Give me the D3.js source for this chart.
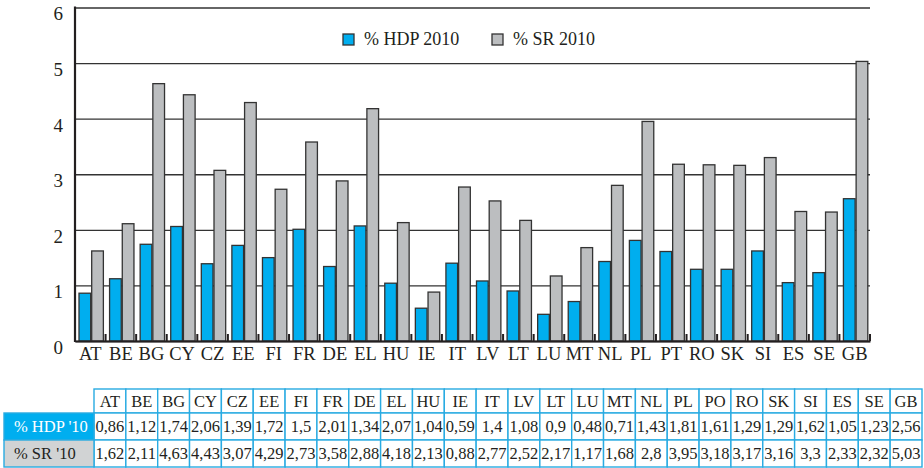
<!doctype html>
<html lang="cs">
  <head>
    <meta charset="utf-8">
    <title>% HDP a % SR 2010</title>
    <style>
      body { margin: 0; background: #fff; }
      svg text { font-family: "Liberation Serif", "Times New Roman", serif; fill: #231f20; }
    </style>
  </head>
  <body>
    <div id="chart"></div>

    <script src="https://cdn.jsdelivr.net/npm/d3@7"></script>
    <script>
      // data
      const countries = ["AT","BE","BG","CY","CZ","EE","FI","FR","DE","EL","HU","IE","IT","LV","LT","LU","MT","NL","PL","PT","RO","SK","SI","ES","SE","GB"];
      const tableHeads = ["AT","BE","BG","CY","CZ","EE","FI","FR","DE","EL","HU","IE","IT","LV","LT","LU","MT","NL","PL","PO","RO","SK","SI","ES","SE","GB"];
      const hdp2010 = [0.86,1.12,1.74,2.06,1.39,1.72,1.5,2.01,1.34,2.07,1.04,0.59,1.4,1.08,0.9,0.48,0.71,1.43,1.81,1.61,1.29,1.29,1.62,1.05,1.23,2.56];
      const sr2010 = [1.62,2.11,4.63,4.43,3.07,4.29,2.73,3.58,2.88,4.18,2.13,0.88,2.77,2.52,2.17,1.17,1.68,2.8,3.95,3.18,3.17,3.16,3.3,2.33,2.32,5.03];
      const yTicks = [0,1,2,3,4,5,6];
      const seriesNames = ["% HDP 2010","% SR 2010"];
      const rowNames = ["% HDP '10","% SR '10"];

      const blue = "#00aeef", grey = "#bcbec0", ink = "#333";
      const serif = "'Liberation Serif', 'Times New Roman', serif";
      const W = 924, H = 468;

      const svg = d3.select("#chart").append("svg")
        .attr("width", W).attr("height", H);

      const plotLeft = 75, plotRight = 870, plotTop = 7.5, plotBottom = 341;

      const x = d3.scaleBand().domain(countries).range([plotLeft, plotRight]);
      const y = d3.scaleLinear().domain([0, 6]).range([plotBottom, plotTop]);
      const inner = d3.scaleBand().domain([0, 1]).range([4, x.bandwidth() - 2.2]).paddingInner(0.08);

      //gridlines + y labels
      const yAxis = svg.append("g")
        .attr("transform", "translate(" + plotLeft + ",0)")
        .call(d3.axisLeft(y).tickValues(yTicks).tickFormat(d3.format("d"))
          .tickSize(-(plotRight - plotLeft)).tickPadding(12));
      yAxis.select(".domain").remove();
      yAxis.selectAll(".tick line").attr("stroke", ink).attr("stroke-width", 1.4);
      yAxis.selectAll(".tick text")
        .attr("dy", "0.65em")
        .style("font-family", serif).style("font-size", "19px").style("fill", "#231f20");

      // bars
      const series = [hdp2010, sr2010];
      const colours = [blue, grey];
      series.forEach((vals, s) => {
        svg.append("g").selectAll("rect")
          .data(vals)
          .enter().append("rect")
          .attr("x", (d, i) => x(countries[i]) + inner(s))
          .attr("y", d => y(d))
          .attr("width", inner.bandwidth())
          .attr("height", d => y(0) - y(d))
          .attr("fill", colours[s])
          .attr("stroke", ink)
          .attr("stroke-width", 1.3);
      });

      // y axis line
      svg.append("line")
        .attr("x1", plotLeft).attr("x2", plotLeft).attr("y1", plotTop - 1).attr("y2", plotBottom + 1)
        .attr("stroke", "#231f20").attr("stroke-width", 2.2);

      // x axis: baseline with small upward ticks between countries
      const xAxis = svg.append("g")
        .attr("transform", "translate(0," + plotBottom + ")")
        .call(d3.axisBottom(x).tickSize(0).tickPadding(6));
      xAxis.select(".domain").attr("stroke", "#231f20").attr("stroke-width", 2.2);
      xAxis.selectAll(".tick text")
        .style("font-family", serif).style("font-size", "18.5px").style("fill", "#231f20");
      xAxis.selectAll(".sep")
        .data(countries)
        .enter().append("line")
        .attr("x1", d => x(d) + x.bandwidth()).attr("x2", d => x(d) + x.bandwidth())
        .attr("y1", 0).attr("y2", -7)
        .attr("stroke", "#231f20").attr("stroke-width", 2);

      // legend
      const legend = svg.append("g").attr("transform", "translate(343,34)");
      [[0, 0], [1, 149]].forEach(([s, dx]) => {
        legend.append("rect").attr("x", dx).attr("y", 0).attr("width", 11).attr("height", 11)
          .attr("fill", colours[s]).attr("stroke", ink).attr("stroke-width", 1.3);
        legend.append("text").attr("x", dx + 21).attr("y", 11)
          .style("font-size", "18px").text(seriesNames[s]);
      });

      // data table under the chart
      const fmt = v => String(v).replace(".", ",");
      const tx = d3.scaleBand().domain(tableHeads).range([94, 922]);
      const rowsY = [389, 413, 440, 467];
      const cyan = "#29abe2";
      const table = svg.append("g");

      const rows = [tableHeads, hdp2010.map(fmt), sr2010.map(fmt)];
      rows.forEach((cells, r) => {
        const y0 = rowsY[r], h = rowsY[r + 1] - rowsY[r];
        cells.forEach((c, i) => {
          table.append("rect")
            .attr("x", tx(tableHeads[i])).attr("y", y0)
            .attr("width", tx.bandwidth()).attr("height", h)
            .attr("fill", "#fff").attr("stroke", cyan).attr("stroke-width", 1.4);
          table.append("text")
            .attr("x", tx(tableHeads[i]) + tx.bandwidth() / 2).attr("y", y0 + h / 2 + 5.5)
            .attr("text-anchor", "middle").style("font-size", "16.5px").text(c);
        });
      });

      rowNames.forEach((name, r) => {
        const y0 = rowsY[r + 1], h = rowsY[r + 2] - rowsY[r + 1];
        table.append("rect")
          .attr("x", 4).attr("y", y0).attr("width", 90).attr("height", h)
          .attr("fill", r === 0 ? blue : "#d1d3d4").attr("stroke", cyan).attr("stroke-width", 1.4);
        table.append("text")
          .attr("x", 14).attr("y", y0 + h / 2 + 5.5)
          .style("font-size", "16.5px")
          .style("fill", r === 0 ? "#fff" : "#231f20")
          .text(name);
      });
    </script>
  </body>
</html>
